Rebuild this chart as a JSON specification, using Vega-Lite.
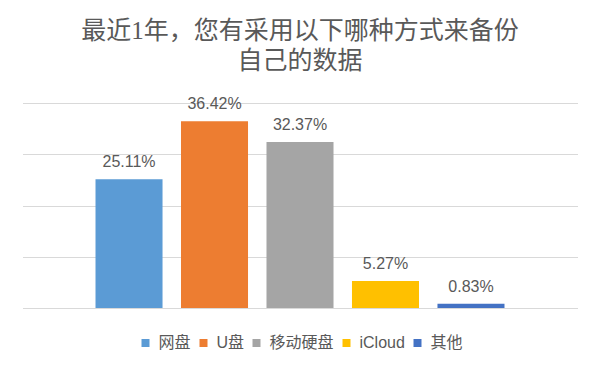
{
  "$schema": "https://vega.github.io/schema/vega-lite/v6.json",
  "width": 555,
  "height": 205,
  "autosize": {"type": "none"},
  "padding": {"left": 22.5, "top": 103, "right": 22, "bottom": 65},
  "background": "white",
  "title": {
    "text": ["最近1年，您有采用以下哪种方式来备份", "自己的数据"],
    "font": "Liberation Serif, Noto Sans CJK SC",
    "fontSize": 25,
    "fontWeight": "normal",
    "color": "#595959",
    "lineHeight": 30,
    "anchor": "middle",
    "frame": "group",
    "offset": 22
  },
  "data": {
    "values": [
      {"方式": "网盘", "比例": 0.2511},
      {"方式": "U盘", "比例": 0.3642},
      {"方式": "移动硬盘", "比例": 0.3237},
      {"方式": "iCloud", "比例": 0.0527},
      {"方式": "其他", "比例": 0.0083}
    ]
  },
  "encoding": {
    "x": {
      "field": "方式",
      "type": "nominal",
      "sort": null,
      "axis": null,
      "scale": {"paddingInner": 0.216, "paddingOuter": 0.854}
    },
    "y": {
      "field": "比例",
      "type": "quantitative",
      "scale": {"domain": [0, 0.4], "nice": false},
      "axis": {
        "values": [0, 0.1, 0.2, 0.3, 0.4],
        "grid": true,
        "gridColor": "#d9d9d9",
        "gridWidth": 1,
        "labels": false,
        "ticks": false,
        "domain": false,
        "title": null
      }
    }
  },
  "layer": [
    {
      "mark": {"type": "bar"},
      "encoding": {
        "color": {
          "field": "方式",
          "type": "nominal",
          "sort": null,
          "scale": {
            "domain": ["网盘", "U盘", "移动硬盘", "iCloud", "其他"],
            "range": ["#5B9BD5", "#ED7D31", "#A5A5A5", "#FFC000", "#4472C4"]
          },
          "legend": {
            "orient": "bottom",
            "direction": "horizontal",
            "title": null,
            "symbolType": "square",
            "symbolSize": 64,
            "symbolStrokeWidth": 0,
            "labelFont": "Liberation Sans, Noto Sans CJK SC",
            "labelFontSize": 16,
            "labelColor": "#595959",
            "labelOffset": 5,
            "columnPadding": 4,
            "offset": 27
          }
        }
      }
    },
    {
      "mark": {
        "type": "text",
        "baseline": "alphabetic",
        "dy": -12,
        "font": "Liberation Sans",
        "fontSize": 16,
        "color": "#595959"
      },
      "encoding": {
        "text": {"field": "比例", "type": "quantitative", "format": ".2%"}
      }
    }
  ],
  "config": {
    "view": {"stroke": null},
    "legend": {"layout": {"bottom": {"anchor": "middle"}}}
  }
}
